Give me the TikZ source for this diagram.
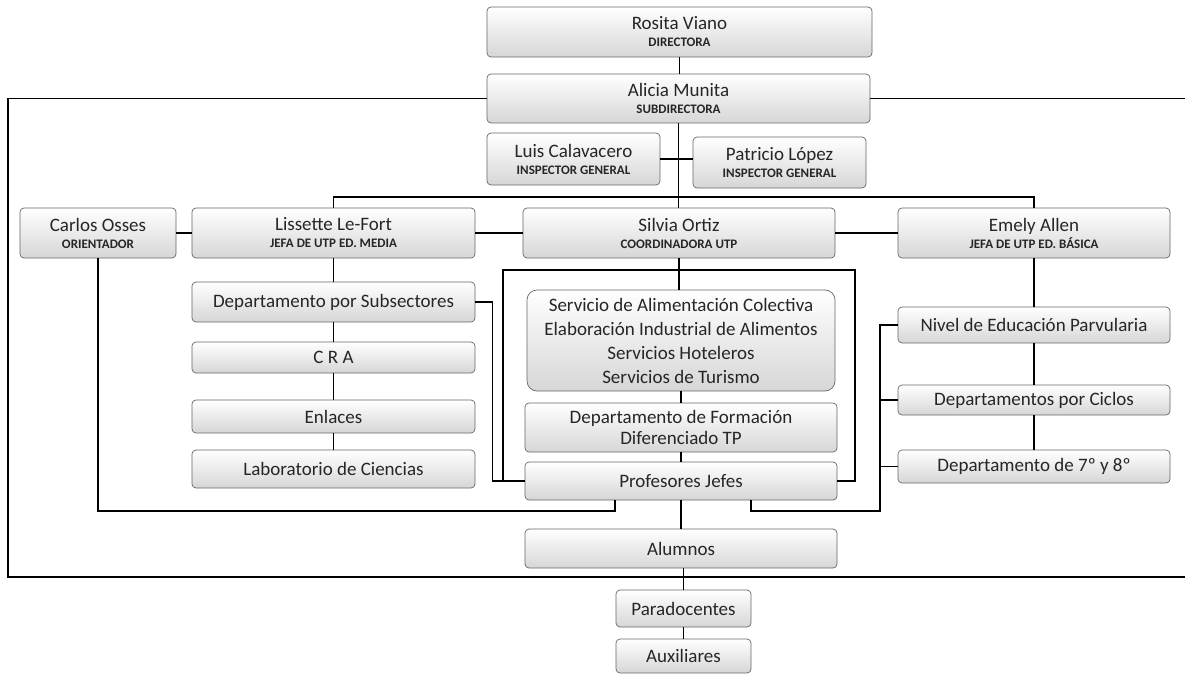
\documentclass[tikz,border=0pt]{standalone}
\usepackage{fontspec}
\setmainfont{Carlito}
\newcommand{\nm}{\fontsize{19}{22}\selectfont}
\newcommand{\ttl}{\fontsize{13}{15}\selectfont\bfseries}
\newcommand{\who}[2]{{\nm #1}\\[-5pt]{\ttl #2}}

\begin{document}
\begin{tikzpicture}[x=1pt,y=-1pt,
  box/.style={draw=black!60, line width=0.7pt, rounded corners=4pt, top color=white,
    bottom color=black!16, inner sep=0pt, align=center, text=black!85, font=\nm},
  sz/.style 2 args={minimum width=#1pt, minimum height=#2pt},
  link/.style={line width=1.1pt}]
  \useasboundingbox (0,0) rectangle (1185,674);

  \node[box,sz={385}{50}] (rosita) at (679.5,32) {\who{Rosita Viano}{DIRECTORA}};
  \node[box,sz={383}{49}] (alicia) at (678.5,98.5) {\who{Alicia Munita}{SUBDIRECTORA}};
  \node[box,sz={173}{52}] (luis) at (573.5,159) {\who{Luis Calavacero}{INSPECTOR GENERAL}};
  \node[box,sz={173}{51}] (patricio) at (779.5,162.5) {\who{Patricio López}{INSPECTOR GENERAL}};

  \node[box,sz={156}{50}] (carlos) at (98,233) {\who{Carlos Osses}{ORIENTADOR}};
  \node[box,sz={283}{50}] (lissette) at (333.5,233) {\who{Lissette Le-Fort}{JEFA DE UTP ED. MEDIA}};
  \node[box,sz={312}{50}] (silvia) at (679,233) {\who{Silvia Ortiz}{COORDINADORA UTP}};
  \node[box,sz={272}{50}] (emely) at (1034,233) {\who{Emely Allen}{JEFA DE UTP ED. BÁSICA}};

  \node[box,sz={283}{40}] (subsect) at (333.5,302) {Departamento por Subsectores};
  \node[box,sz={283}{31}] (cra) at (333.5,357.5) {C R A};
  \node[box,sz={283}{33}] (enlaces) at (333.5,416.5) {Enlaces};
  \node[box,sz={283}{38}] (lab) at (333.5,469) {Laboratorio de Ciencias};

  \node[box,sz={308}{101},rounded corners=10pt,font=\fontsize{19}{24}\selectfont] (servicio) at (681,340.5)
    {Servicio de Alimentación Colectiva\\Elaboración Industrial de Alimentos\\Servicios Hoteleros\\Servicios de Turismo};
  \node[box,sz={312}{49},font=\fontsize{19}{21}\selectfont] (formacion) at (681,427.5)
    {Departamento de Formación\\Diferenciado TP};
  \node[box,sz={312}{38}] (profes) at (681,481) {Profesores Jefes};
  \node[box,sz={312}{39}] (alumnos) at (681,548.5) {Alumnos};
  \node[box,sz={135}{37}] (parado) at (683.5,608.5) {Paradocentes};
  \node[box,sz={135}{34}] (auxil) at (683.5,656) {Auxiliares};

  \node[box,sz={272}{36}] (nivel) at (1034,325) {Nivel de Educación Parvularia};
  \node[box,sz={272}{30}] (ciclos) at (1034,400) {Departamentos por Ciclos};
  \node[box,sz={272}{33}] (septimo) at (1034,466.5) {Departamento de 7º y 8º};

  \coordinate (bus) at (679,197);
  \coordinate (tl) at (503,270);
  \coordinate (tr) at (855,270);
  \coordinate (cj) at (615,511);
  \coordinate (ej) at (751,511);
  \coordinate (ec) at (880,325);

  \draw[link] (alicia.west) -- (8,98.5) -- (8,577) -- (1185,577);
  \draw[link] (alicia.east) -- (1185,98.5);
  \draw[link] (rosita.south) -- (rosita.south |- alicia.north);
  \draw[link] (alicia.south) -- (alicia.south |- silvia.north);
  \draw[link] (luis.east) -- (luis.east -| patricio.west);
  \draw[link] (lissette.north) |- (bus) -| (emely.north);
  \draw[link] (carlos.east) -- (lissette.west);
  \draw[link] (lissette.east) -- (silvia.west);
  \draw[link] (silvia.east) -- (emely.west);
  \foreach \a/\b in {lissette/subsect,subsect/cra,cra/enlaces,enlaces/lab,silvia/servicio,
    servicio/formacion,formacion/profes,profes/alumnos,emely/nivel,nivel/ciclos,ciclos/septimo,parado/auxil}
    \draw[link] (\a.south) -- (\a.south |- \b.north);
  \draw[link] (parado.north) -- (parado.north |- alumnos.south);
  \draw[link] (profes.west) -| (tl) -- (tr) |- (profes.east);
  \draw[link] (subsect.east) -- ++(17,0) |- (profes.west);
  \draw[link] (carlos.south) |- (cj) -- (cj |- profes.south);
  \draw[link] (ej |- profes.south) -- (ej) -| (ec) -- (nivel.west);
  \foreach \n in {ciclos,septimo}
    \draw[link] (\n.west) -- (\n.west -| ec);
\end{tikzpicture}
\end{document}
